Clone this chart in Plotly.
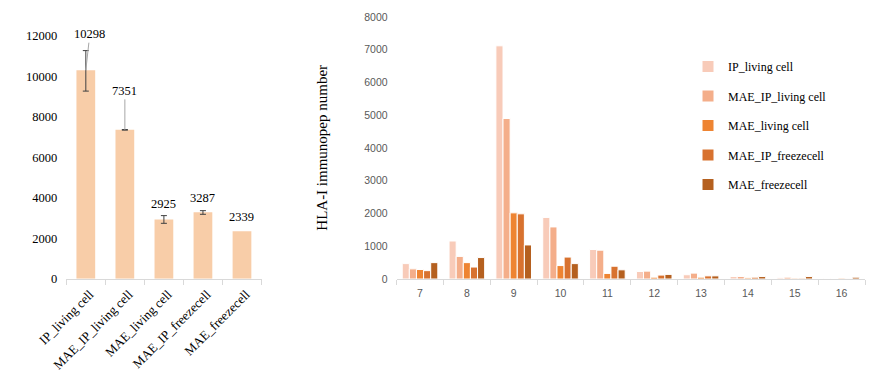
import plotly.graph_objects as go

# ---- Left chart data ----
samples = ["IP_living cell", "MAE_IP_living cell", "MAE_living cell", "MAE_IP_freezecell", "MAE_freezecell"]
totals = [10298, 7351, 2925, 3287, 2339]
err_samples = ["IP_living cell", "MAE_IP_living cell", "MAE_living cell", "MAE_IP_freezecell"]
err_centers = [10264, 7351, 2925, 3270]
err_sizes = [1000, 15, 190, 90]

# ---- Right chart data ----
lengths = ["7", "8", "9", "10", "11", "12", "13", "14", "15", "16"]
ip_living = [470, 1160, 7120, 1880, 900, 230, 130, 75, 35, 15]
mae_ip_living = [310, 690, 4900, 1590, 880, 240, 180, 75, 55, 15]
mae_living = [290, 500, 2020, 410, 170, 55, 55, 35, 25, 25]
mae_ip_freeze = [255, 365, 1990, 670, 390, 120, 95, 55, 25, 3]
mae_freeze = [500, 655, 1040, 470, 280, 140, 95, 75, 75, 55]

series = [
    ("IP_living cell", ip_living, "#F8CBB9"),
    ("MAE_IP_living cell", mae_ip_living, "#F4AE8A"),
    ("MAE_living cell", mae_living, "#EE8432"),
    ("MAE_IP_freezecell", mae_ip_freeze, "#D8722F"),
    ("MAE_freezecell", mae_freeze, "#B5601F"),
]

SERIF = "Liberation Serif"
SANS = "Liberation Sans"

fig = go.Figure()

fig.add_trace(go.Bar(
    x=samples, y=totals, width=0.48,
    marker=dict(color="#F8CDA8", line=dict(width=0)),
    xaxis="x", yaxis="y", showlegend=False, hoverinfo="skip",
))
fig.add_trace(go.Scatter(
    x=err_samples, y=err_centers, mode="markers",
    marker=dict(size=1, opacity=0),
    error_y=dict(type="data", array=err_sizes, color="#404040", thickness=1, width=3),
    xaxis="x", yaxis="y", showlegend=False,
))

for name, vals, col in series:
    fig.add_trace(go.Bar(
        x=lengths, y=vals, name=name, legendgroup=name,
        marker=dict(color=col, line=dict(width=1, color="white")),
        xaxis="x2", yaxis="y2",
    ))

H = 390.0
W = 890.0
OFF = 8.0  # page body margin


def px(sx):
    return (sx - OFF) / W


def py(sy):
    return (H - (sy - OFF)) / H


annotations = []
annotations.append(dict(x=samples[0], y=totals[0], xref="x", yref="y", text=str(totals[0]),
                        showarrow=True, arrowhead=0, arrowwidth=1, arrowcolor="#A6A6A6",
                        ax=4, ay=-36, font=dict(family=SERIF, size=12.5, color="black")))
annotations.append(dict(x=samples[1], y=totals[1], xref="x", yref="y", text=str(totals[1]),
                        showarrow=True, arrowhead=0, arrowwidth=1, arrowcolor="#A6A6A6",
                        ax=0, ay=-39, font=dict(family=SERIF, size=12.5, color="black")))
for i, sh in [(2, 15.5), (3, 14), (4, 14)]:
    annotations.append(dict(x=samples[i], y=totals[i], xref="x", yref="y", text=str(totals[i]),
                            showarrow=False, yanchor="middle", yshift=sh,
                            font=dict(family=SERIF, size=12.5, color="black")))
annotations.append(dict(x=px(321.7), y=py(148), xref="paper", yref="paper",
                        text="HLA-I immunopep number", textangle=-90, showarrow=False,
                        xanchor="center", yanchor="middle",
                        font=dict(family=SERIF, size=15, color="black")))

fig.update_layout(
    width=890, height=390,
    margin=dict(l=0, r=0, t=0, b=0, autoexpand=False),
    paper_bgcolor="white", plot_bgcolor="white",
    barmode="group", bargap=0.24, bargroupgap=0,
    showlegend=True,
    legend=dict(x=px(688), y=py(52), xanchor="left", yanchor="top",
                font=dict(family=SERIF, size=12, color="black"),
                tracegroupgap=10.5, bgcolor="rgba(0,0,0,0)", itemwidth=30),
    annotations=annotations,
    xaxis=dict(domain=[px(66.3), px(261.5)], anchor="y", type="category",
               showline=True, linecolor="#D9D9D9", linewidth=1,
               ticks="outside", tickson="boundaries", ticklen=5, tickcolor="#D9D9D9",
               tickangle=-45, tickfont=dict(family=SERIF, size=13, color="black"),
               ticklabelshift=4, ticklabelstandoff=2,
               showgrid=False, zeroline=False, automargin=False),
    yaxis=dict(domain=[py(278.7), py(35.7)], anchor="x", range=[0, 12000],
               dtick=2000, tickformat="d", showline=False, showgrid=False, zeroline=False,
               ticks="", ticklabelstandoff=8, automargin=False,
               tickfont=dict(family=SERIF, size=12.5, color="black")),
    xaxis2=dict(domain=[px(396.6), px(865)], anchor="y2", type="category",
                showline=True, linecolor="#D9D9D9", linewidth=1,
                ticks="outside", tickson="boundaries", ticklen=5, tickcolor="#D9D9D9",
                tickfont=dict(family=SANS, size=10.5, color="#595959"),
                showgrid=False, zeroline=False, ticklabelstandoff=4, automargin=False),
    yaxis2=dict(domain=[py(279), py(17)], anchor="x2", range=[0, 8000],
                dtick=1000, tickformat="d", showline=False, showgrid=False, zeroline=False,
                ticks="", ticklabelstandoff=8, automargin=False,
                tickfont=dict(family=SANS, size=10.5, color="#595959")),
)

fig.write_html("out.html")
